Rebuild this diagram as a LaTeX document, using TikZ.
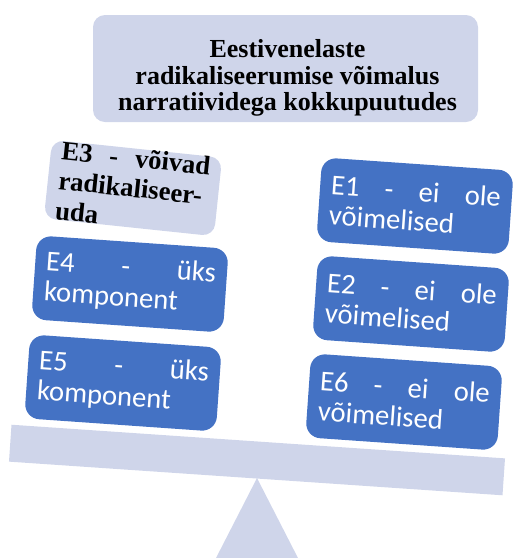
\documentclass[tikz,border=0pt]{standalone}
\usepackage{fontspec}
\setmainfont{Liberation Serif}
\newfontfamily\boxfont{Carlito}
\definecolor{lav}{HTML}{CFD5EA}
\definecolor{blu}{HTML}{4472C4}

\begin{document}
\begin{tikzpicture}[x=0.75pt,y=-0.75pt,
    ebox/.style={fill=blu,text=white,rounded corners=11pt,minimum height=63pt,
        text width=127.5pt,inner xsep=8.25pt,align=left,rotate=-4,
        font=\boxfont\fontsize{21.5}{22.5}\selectfont}]
    \clip (0,0) rectangle (513,558);
    % balance
    \fill[lav] (257,478)--(194.5,600)--(319.5,600)--cycle;
    \node[fill=lav,minimum width=371pt,minimum height=27.75pt,inner sep=0pt,rotate=-3.9] (plank) at (257,460) {};
    % title
    \node[fill=lav,rounded corners=9pt,minimum width=288.75pt,minimum height=80.25pt] (title) at (285.5,68.5) {};
    \node[align=center,font=\bfseries\fontsize{19.5}{20}\selectfont] (titletext) at (287.5,78) {Eestivenelaste\\radikaliseerumise võimalus\\narratiividega kokkupuutudes};
    % left side
    \node[fill=lav,rounded corners=9pt,minimum width=128.25pt,minimum height=59pt,text width=112pt,
        inner xsep=8pt,inner ysep=0pt,align=left,rotate=-6,font=\bfseries\fontsize{20}{22.5}\selectfont] (e3) at (133,188)
        {E3\hfill-\hfill võivad\\radikaliseer-\\uda};
    \foreach \n/\x/\y in {4/130/284,5/123/383}{
        \node[ebox] (e\n) at (\x,\y) {E\n\hfill-\hfill üks\\komponent};
    }
    % right side
    \foreach \n/\x/\y in {1/415/206,2/411/304,6/404/402}{
        \node[ebox] (e\n) at (\x,\y) {E\n\hfill-\hfill ei\hfill ole\\võimelised};
    }
\end{tikzpicture}
\end{document}
